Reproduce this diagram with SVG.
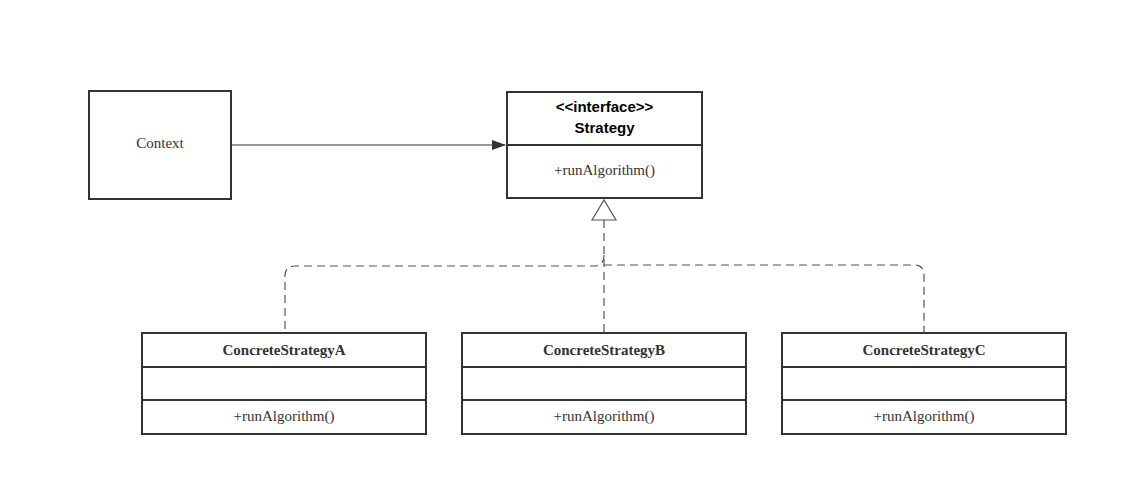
<svg xmlns="http://www.w3.org/2000/svg" width="1139" height="500" viewBox="0 0 1139 500">
<style>
.box{fill:#fff;stroke:#333;stroke-width:2}
.div{stroke:#333;stroke-width:2}
.t{font-family:"Liberation Serif",serif;font-size:15px;fill:#333;text-anchor:middle}
.b{font-weight:bold}
.s{font-family:"Liberation Sans",sans-serif;font-size:15px;font-weight:bold;fill:#000;text-anchor:middle}
.dash{fill:none;stroke:#555;stroke-width:1.2;stroke-dasharray:8,5}
</style>
<defs>
<marker id="arr" markerWidth="14" markerHeight="10" refX="13" refY="5" orient="auto" markerUnits="userSpaceOnUse"><path d="M0,0 L14,5 L0,10 Z" fill="#333"/></marker>
</defs>
<rect width="1139" height="500" fill="#fff"/>
<g id="connectors">
<line x1="231" y1="145" x2="505" y2="145" stroke="#333" stroke-width="1.2" marker-end="url(#arr)"/>
<path d="M592,220 L604,200 L616,220 Z" fill="#fff" stroke="#555" stroke-width="1.2"/>
<path class="dash" d="M604,220 L604,333"/>
<path class="dash" d="M604,255 Q604,266 594,266 L295,266 Q285,266 285,276 L285,333"/>
<path class="dash" d="M604,265 L914,265 Q924,265 924,275 L924,333"/>
</g>
<g id="context"><rect class="box" x="89" y="91" width="142" height="108"/><text class="t" x="160" y="148">Context</text></g>
<g id="strategy"><rect class="box" x="507" y="92" width="195" height="106"/><line class="div" x1="507" y1="145" x2="702" y2="145"/>
<text class="s" x="604.5" y="112">&lt;&lt;interface&gt;&gt;</text><text class="s" x="604.5" y="133">Strategy</text>
<text class="t" x="604.5" y="175">+runAlgorithm()</text></g>
<g id="csa"><rect class="box" x="142" y="333" width="284" height="101"/><line class="div" x1="142" y1="367" x2="426" y2="367"/><line class="div" x1="142" y1="400" x2="426" y2="400"/>
<text class="t b" x="284" y="355">ConcreteStrategyA</text><text class="t" x="284" y="421">+runAlgorithm()</text></g>
<g id="csb"><rect class="box" x="462" y="333" width="284" height="101"/><line class="div" x1="462" y1="367" x2="746" y2="367"/><line class="div" x1="462" y1="400" x2="746" y2="400"/>
<text class="t b" x="604" y="355">ConcreteStrategyB</text><text class="t" x="604" y="421">+runAlgorithm()</text></g>
<g id="csc"><rect class="box" x="782" y="333" width="284" height="101"/><line class="div" x1="782" y1="367" x2="1066" y2="367"/><line class="div" x1="782" y1="400" x2="1066" y2="400"/>
<text class="t b" x="924" y="355">ConcreteStrategyC</text><text class="t" x="924" y="421">+runAlgorithm()</text></g>
</svg>
